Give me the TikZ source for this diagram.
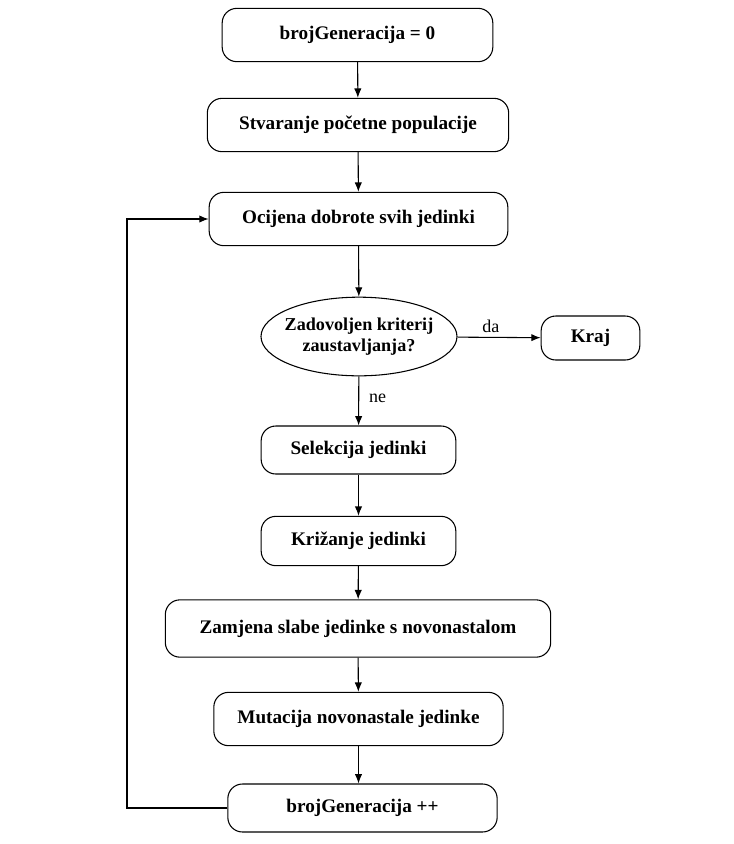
\documentclass[tikz,border=0pt]{standalone}
\usepackage{fontspec}
\setmainfont{Liberation Serif}
\usepackage{tikz}
\usetikzlibrary{shapes.geometric, arrows.meta}

\begin{document}
\begin{tikzpicture}[x=0.75pt, y=-0.75pt, >={Latex[length=7pt, width=5.5pt]}, line width=0.8pt,
    every node/.style={font=\fontsize{13.5}{16}\selectfont},
    box/.style={draw, rounded corners=11pt, font=\bfseries\fontsize{14.4}{16}\selectfont},
    decision/.style={draw, ellipse, align=center, inner xsep=-4pt, inner ysep=0pt, font=\bfseries\fontsize{13.6}{16}\selectfont}]
    \useasboundingbox (0, 0) rectangle (734, 844);

    \node [box, minimum width=203pt, minimum height=40pt] (b0) at (357.5, 35) {brojGeneracija = 0};
    \node [box, minimum width=226pt, minimum height=40pt] (pop) at (358, 125) {Stvaranje početne populacije};
    \node [box, minimum width=224pt, minimum height=40pt] (ocj) at (358.5, 219) {Ocijena dobrote svih jedinki};
    \node [decision, minimum width=147pt, minimum height=59pt] (kri) at (359, 336.5) {Zadovoljen kriterij\\zaustavljanja?};
    \node [box, minimum width=74pt, minimum height=33pt] (kraj) at (590.5, 338) {Kraj};
    \node [box, minimum width=146pt, minimum height=36pt] (sel) at (358.5, 450) {Selekcija jedinki};
    \node [box, minimum width=146pt, minimum height=37pt] (kriz) at (358.5, 541) {Križanje jedinki};
    \node [box, minimum width=289pt, minimum height=43pt] (zam) at (358, 628.5) {Zamjena slabe jedinke s novonastalom};
    \node [box, minimum width=217pt, minimum height=40pt] (mut) at (358.5, 719) {Mutacija novonastale jedinke};
    \node [box, minimum width=202pt, minimum height=36pt] (b1) at (362.5, 808) {brojGeneracija ++};
    \coordinate (petlja) at (127, 808);

    \draw [->] (b0) to (pop);
    \draw [->] (pop) to (ocj);
    \draw [->] (ocj) to (kri);
    \draw [->] (kri) to node [above, pos=.4] {da} (kraj);
    \draw [->] (kri) to node [right, pos=.45, xshift=4pt] {ne} (sel);
    \draw [->] (sel) to (kriz);
    \draw [->] (kriz) to (zam);
    \draw [->] (zam) to (mut);
    \draw [->] (mut.south) to (mut.south |- b1.north);
    \draw [->] (b1.west) -- (petlja) |- (ocj.west);
\end{tikzpicture}
\end{document}
